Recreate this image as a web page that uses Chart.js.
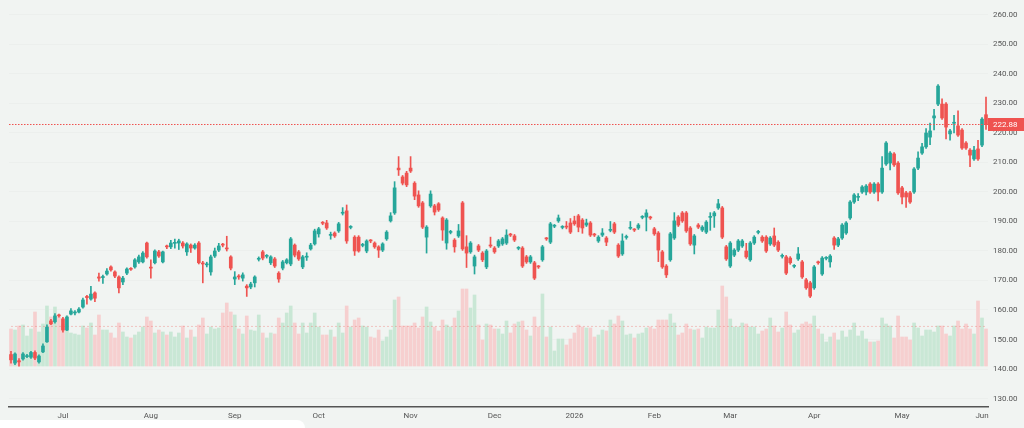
<!DOCTYPE html>
<html>
<head>
<meta charset="utf-8">
<title>Daily candles</title>
<script src="https://cdn.jsdelivr.net/npm/chart.js@4.4.1/dist/chart.umd.min.js"></script>
<style>
  html, body { margin: 0; padding: 0; background: #f1f4f2; }
  #wrap { position: relative; width: 1024px; height: 428px; overflow: hidden; }
  #corner { position: absolute; left: 0; top: 420px; width: 305px; height: 8px; background: #fff; border-top-right-radius: 10px; }
</style>
</head>
<body>
<div id="wrap">
  <canvas id="myChart" width="1024" height="428" style="width:1024px;height:428px"></canvas>
  <div id="corner"></div>
</div>
<script>
// daily OHLC (245 sessions, late Jun 2025 -> early Jun 2026)
const opens = [
  144.9,142.0,142.8,143.4,144.2,144.0,145.6,142.4,145.8,149.2,
  156.3,156.0,158.3,157.0,153.2,158.6,159.0,159.3,161.0,164.6,
  163.7,165.8,171.2,171.0,172.2,174.6,172.9,171.2,169.5,172.5,
  174.0,174.6,176.3,176.3,182.7,174.4,176.0,179.7,176.3,181.6,
  181.4,182.6,182.7,182.7,179.7,182.0,181.0,182.7,175.8,175.3,
  172.9,178.3,180.3,182.2,181.0,178.0,170.5,171.4,170.8,168.1,
  167.8,169.2,177.2,179.7,178.2,176.0,177.3,172.5,174.2,176.0,
  175.6,182.0,179.7,174.6,177.9,180.7,182.4,185.8,189.6,189.5,
  185.3,186.1,186.8,192.8,193.6,188.0,184.7,184.7,181.9,180.0,
  183.5,182.7,181.4,180.3,184.1,190.2,192.9,208.1,205.1,206.4,
  208.1,203.0,199.0,196.3,184.7,195.3,195.3,196.0,191.2,182.7,
  186.3,183.7,185.1,196.3,181.4,179.7,174.9,181.7,179.3,174.6,
  181.8,181.0,181.7,182.4,182.7,185.5,185.1,180.9,181.0,178.0,
  176.3,176.0,174.7,177.0,184.2,183.0,188.4,190.2,188.0,188.2,
  189.5,190.2,191.9,190.5,188.8,189.5,185.5,183.4,185.4,184.4,
  187.0,189.2,182.0,179.0,184.6,187.7,187.2,187.8,191.4,191.5,
  191.3,187.5,186.1,179.7,174.9,177.0,184.4,191.5,192.9,192.9,
  187.8,182.0,188.8,187.1,186.4,191.4,191.9,194.6,194.6,181.4,
  174.9,178.6,180.3,181.7,180.0,177.0,182.7,186.3,184.7,184.7,
  182.4,185.1,183.0,178.2,178.0,177.6,174.8,177.3,176.3,170.2,
  169.2,167.5,176.1,172.2,177.5,176.3,184.4,182.0,184.4,186.1,
  191.2,196.6,198.2,200.0,200.0,202.7,200.0,202.7,200.0,209.5,
  209.8,212.9,209.8,201.4,199.7,199.7,200.0,208.1,213.2,215.3,
  218.6,225.1,229.8,229.8,229.8,219.7,223.3,222.4,221.0,216.6,
  214.2,211.2,214.6,215.9,226.2
];
const highs = [
  146,145.5,143.5,145.6,145,146,146.2,144.8,148.5,155,
  156.8,158.8,158.6,157.5,158,160.5,159.8,160.8,164,165,
  168,166.2,172.5,171.8,174,175,173.3,171.6,171.4,174.3,
  174.4,177.4,178.6,179.8,183,177,180.4,180.2,180,182,
  183.6,184,184,183.2,182.8,182.4,182.5,183.2,176.5,176.2,
  178.6,181,182.6,182.6,185,178.4,173,172,172.6,168.6,
  169.4,171.6,178,180.2,178.8,178.4,177.8,173,176.8,177.4,
  184.6,182.4,180.2,178.5,179.4,182.6,187.4,188,190,190.4,
  186.4,186.5,189.7,194.7,195.6,188.6,185.2,185.2,182.6,183.8,
  183.9,183.1,181.8,182.8,186.9,193,203.5,212,205.6,207,
  212,203.5,200.4,196.8,188.6,200.4,195.8,196.4,191.6,191,
  187,184.2,189,196.8,185.2,183.2,178.6,182.2,179.8,180.5,
  184.7,181.5,183.9,184.6,187.2,186,185.6,181.5,181.5,178.5,
  178.5,176.5,175.1,181.9,184.6,189.7,189,192.2,188.6,190,
  191,191.8,192.4,191,190.8,190,186,185.2,187.6,184.9,
  190,189.7,182.5,185.8,185.4,190,187.6,189.3,192,194,
  191.8,188,186.6,180.2,175.4,186.3,193,192,193.4,193.4,
  188.3,185.6,189.3,188.6,190.3,193,193.4,197.5,195.1,181.9,
  183.2,180.8,183.9,183.9,182.6,183.2,185.2,187,185.2,185.2,
  184.9,187.8,183.5,179,178.5,178.1,175.4,181.2,176.8,170.7,
  169.7,175.1,176.6,178.1,178.1,178.8,184.9,184.6,189.3,190,
  197.1,199.5,199.5,202.2,202.5,203.2,203.2,203.2,212,217.1,
  213.7,213.4,210.3,201.9,200.2,200.2,208.3,213.6,216.5,221.5,
  223.4,228,236.4,231.6,230.3,221.2,226,227.5,221.5,217.1,
  214.7,215.5,217.5,225.2,232.2
];
const lows = [
  142,141.5,141.0,143,143.8,143.6,143.2,142,145.5,149,
  155,155.5,157.6,152.5,153,158.3,158.3,159,160.6,162,
  163.3,162.8,169.8,169,171.8,173.2,171,165.8,168.6,172,
  173.4,174.2,175.8,176,177.6,170.8,175.6,177.8,176,180.8,
  180.8,181,180.5,181,178.5,179.5,180.6,175.6,169.2,174.6,
  171.8,177.8,179.8,181.4,180,173.6,168.6,170.4,169.8,164.6,
  167.2,167.8,176.6,177,177.6,175.4,174.4,169.4,173.6,175.6,
  175,178,176.8,174,176.8,180.3,182,184.7,188.9,187.3,
  184,184.6,186.3,192.2,182.6,187.5,178.5,179.6,181.4,179.4,
  182.8,180.9,177.8,179.8,183.6,189.8,192.4,205.6,202.4,201.8,
  206.6,197.4,194.8,187.6,179.3,194.8,192.2,193.4,183.6,180.6,
  185.8,179.6,184.6,180.2,174.4,179.2,172.2,179.8,176.4,174,
  181.2,179.2,181.2,181.9,182.2,184.9,183.2,180.4,174.4,175.8,
  175.8,170.3,174.1,176.5,183.6,182.5,187.9,189.7,187.5,187.5,
  185.9,188.7,186.5,186,188.3,184.9,184.9,182.9,184.9,181.8,
  186.5,185.9,177.8,178.5,184,187.3,186.6,187.3,190.9,186.8,
  190.7,185.3,176.4,174.1,171,176.5,183.9,188.3,189.7,186.3,
  181.9,179,187.6,186.6,185.9,187,188,194.1,184.2,176.8,
  174.4,178.1,179.8,181.2,177.5,176.5,182.2,185.8,182.9,179.5,
  181.9,181.5,179.8,177.6,172,175.5,174.3,176.8,170.7,167,
  164.2,167,175.5,171.7,177,174.5,180.5,181.5,183.9,185.6,
  190.7,196.1,197.1,199.5,199,199.5,199.5,197,199.5,209,
  207.5,208.7,199.2,196,194.8,196.1,199.5,207.6,212.7,214.8,
  216,221,229.3,224.6,218,217.6,220,218.8,214.4,214.4,
  208.6,210.7,210.7,215.4,221.2
];
const closes = [
  143.1,145.1,142.4,145.1,144.4,145.6,143.7,144.4,147.8,154.2,
  155.3,158,158.0,153.2,157.6,159.7,159.1,160.3,163.4,164.2,
  165.4,164,170.8,171.2,173.2,173.6,171.5,167.5,170.8,173.9,
  173.8,177,178,179.3,178,174.2,180,178.3,179.7,181.4,
  182.7,182.7,183.4,181.7,182.4,181,182,176,175.6,175.4,
  178,180,181.7,182,180.7,174.2,171.2,171.2,171.9,167.5,
  168.8,171.2,177.3,177.6,178.3,178,174.9,170.5,176.3,177,
  184.1,178.6,177.3,178,178,182,186.8,187.5,189.4,187.8,
  185.4,185.1,189.2,192.9,183.4,188.1,180,180,182,183.4,
  183.4,181.4,180.3,182.4,186.4,191.9,201.4,207.5,203,202.4,
  207.1,198.6,195.3,188.1,188.1,199.3,193.2,193.9,187.1,190.5,
  186.4,181.4,186.8,180.7,179.3,182.7,178,180.3,177,180,
  181.7,179.7,183.4,184.1,185.4,185.4,183.7,181,174.9,176.3,
  178,170.8,174.6,181.4,184.1,189.2,188.5,191.2,188.1,188.1,
  186.4,189.2,188.1,187.8,189.5,185.4,185.4,184.7,186.1,183,
  187.1,186.4,178.3,183.4,184.7,187.8,187.1,188.8,191.5,192.9,
  191.2,185.8,180.3,174.6,171.9,185.8,190.2,188.8,190.2,186.8,
  182.4,185.1,188.1,188.1,189.8,191.5,192.9,196,184.7,177.3,
  182.7,180.3,183.4,183.4,178,182.7,184.7,186.4,183.4,180,
  184.4,182,180.3,178.3,172.5,176,174.9,179,171.2,167.5,
  164.7,174.6,176,177.6,177.6,178.3,182,184.1,188.8,189.5,
  196.6,199,198.3,201.7,202,200,202.7,200,208.1,216.6,
  213.2,209.2,199.7,198.3,198.3,196.6,207.8,211.5,215.3,220,
  220.7,225.8,235.9,225.1,222,220.7,223.4,219.3,214.9,214.9,
  212.5,214.2,211.2,224.7,222.88
];
// volume, in 100K shares
const volumes = [
  37,36,40,41,30,37,54,34,42,60,49,59,49,42,50,33,32,31,40,38,43,31,51,36,36,33,28,43,34,29,
  28,31,34,39,49,45,33,36,34,31,34,29,33,40,28,36,29,41,
  48,32,39,37,38,53,63,54,51,37,32,50,36,35,51,33,28,33,32,48,43,53,60,43,32,43,33,43,53,39,
  31,31,36,29,43,33,60,39,46,48,40,39,29,28,36,25,29,36,
  66,
  69,40,40,40,43,38,49,59,44,39,35,46,41,39,48,55,77,77,58,71,41,26,42,41,37,37,32,45,33,42,
  44,45,36,30,49,39,72,29,39,15,27,27,21,27,33,41,39,38,
  38,29,31,36,35,46,42,50,45,31,32,28,32,33,38,39,37,46,46,46,52,43,31,33,42,37,36,37,28,39,
  38,38,56,80,69,47,39,39,43,42,39,39,32,35,37,48,40,34,38,
  54,41,33,36,42,44,42,50,37,32,24,29,33,26,35,29,36,43,30,35,27,24,24,25,48,42,40,28,50,29,
  29,26,43,38,30,36,36,34,40,40,32,30,40,45,37,42,37,32,65,48,37
];
// month labels on the time axis, with the session index they sit on
const monthTickIndex = [13, 35, 56, 77, 100, 121, 141, 161, 180, 201, 223, 243];
const monthTickLabels = ['Jul', 'Aug', 'Sep', 'Oct', 'Nov', 'Dec', '2026', 'Feb', 'Mar', 'Apr', 'May', 'Jun'];
const priceTicks = [130, 140, 150, 160, 170, 180, 190, 200, 210, 220, 230, 240, 250, 260];

const upColor = '#26a69a';
const downColor = '#ef5350';
const volUpColor = '#c9e7d5';
const volDownColor = '#f6cfcf';
const tickFont = { family: 'Roboto, "Noto Sans", sans-serif', size: 8 };

const isUp = closes.map((c, i) => c >= opens[i]);
const candleColors = isUp.map(u => (u ? upColor : downColor));
const lastClose = closes[closes.length - 1];
const avgVolume = volumes.reduce((a, b) => a + b, 0) / volumes.length;
const monthAt = {};
monthTickIndex.forEach((idx, k) => { monthAt[idx] = monthTickLabels[k]; });

const lastPricePlugin = {
  id: 'lastPrice',
  afterDraw(chart) {
    const { ctx, chartArea, scales } = chart;
    const y = Math.round(scales.y.getPixelForValue(lastClose)) + 0.5;
    ctx.save();
    ctx.strokeStyle = downColor;
    ctx.lineWidth = 1;
    ctx.setLineDash([1.5, 1.5]);
    ctx.beginPath();
    ctx.moveTo(chartArea.left, y);
    ctx.lineTo(chartArea.right, y);
    ctx.stroke();
    ctx.setLineDash([]);
    ctx.fillStyle = downColor;
    ctx.fillRect(chartArea.right, y - 6.5, 36, 13);
    ctx.fillStyle = '#ffffff';
    ctx.font = '8px Roboto, "Noto Sans", sans-serif';
    ctx.textBaseline = 'middle';
    ctx.fillText(lastClose.toFixed(2), chartArea.right + 5, y);
    ctx.restore();
  }
};

const ctx = document.getElementById('myChart').getContext('2d');
const myChart = new Chart(ctx, {
  type: 'bar',
  data: {
    labels: closes.map((_, i) => i),
    datasets: [
      {
        label: 'Body',
        data: opens.map((o, i) => [o, closes[i]]),
        backgroundColor: candleColors,
        barThickness: 3,
        minBarLength: 1,
        grouped: false,
        yAxisID: 'y',
        order: 1,
      },
      {
        label: 'Wick',
        data: lows.map((l, i) => [l, highs[i]]),
        backgroundColor: candleColors,
        barThickness: 1,
        grouped: false,
        yAxisID: 'y',
        order: 2,
      },
      {
        type: 'line',
        label: 'Avg volume',
        data: volumes.map(() => avgVolume),
        borderColor: 'rgba(239, 83, 80, 0.3)',
        borderWidth: 1,
        borderDash: [2, 2],
        pointRadius: 0,
        yAxisID: 'vol',
        order: 3,
      },
      {
        label: 'Volume',
        data: volumes,
        backgroundColor: isUp.map(u => (u ? volUpColor : volDownColor)),
        barThickness: 3,
        grouped: false,
        yAxisID: 'vol',
        order: 4,
      },
    ],
  },
  options: {
    responsive: false,
    animation: false,
    layout: { padding: { left: 9, right: 0, top: 0, bottom: 0 } },
    plugins: {
      legend: { display: false },
      tooltip: { enabled: false },
    },
    scales: {
      x: {
        offset: true,
        grid: { display: false, drawTicks: false },
        border: { display: true, color: '#555555', width: 1.5 },
        ticks: {
          autoSkip: false,
          maxRotation: 0,
          padding: 4,
          color: '#555555',
          font: tickFont,
          callback: (value, index) => monthAt[index] || '',
        },
        afterFit: axis => {
          axis.height = 21;
          axis.paddingLeft = 0;
          axis.paddingRight = 0;
        },
      },
      y: {
        position: 'right',
        min: 127.12,
        max: 265.08,
        afterBuildTicks: axis => {
          axis.ticks = priceTicks.map(v => ({ value: v }));
        },
        grid: { color: 'rgba(0, 0, 0, 0.018)', drawTicks: false },
        border: { display: false },
        ticks: {
          padding: 5,
          color: '#555555',
          font: tickFont,
          callback: value => Number(value).toFixed(2),
        },
        afterFit: axis => {
          axis.width = 36;
          axis.paddingTop = 0;
          axis.paddingBottom = 0;
        },
      },
      vol: {
        display: false,
        min: -41,
        max: 366,
      },
    },
  },
  plugins: [lastPricePlugin],
});
</script>
</body>
</html>
